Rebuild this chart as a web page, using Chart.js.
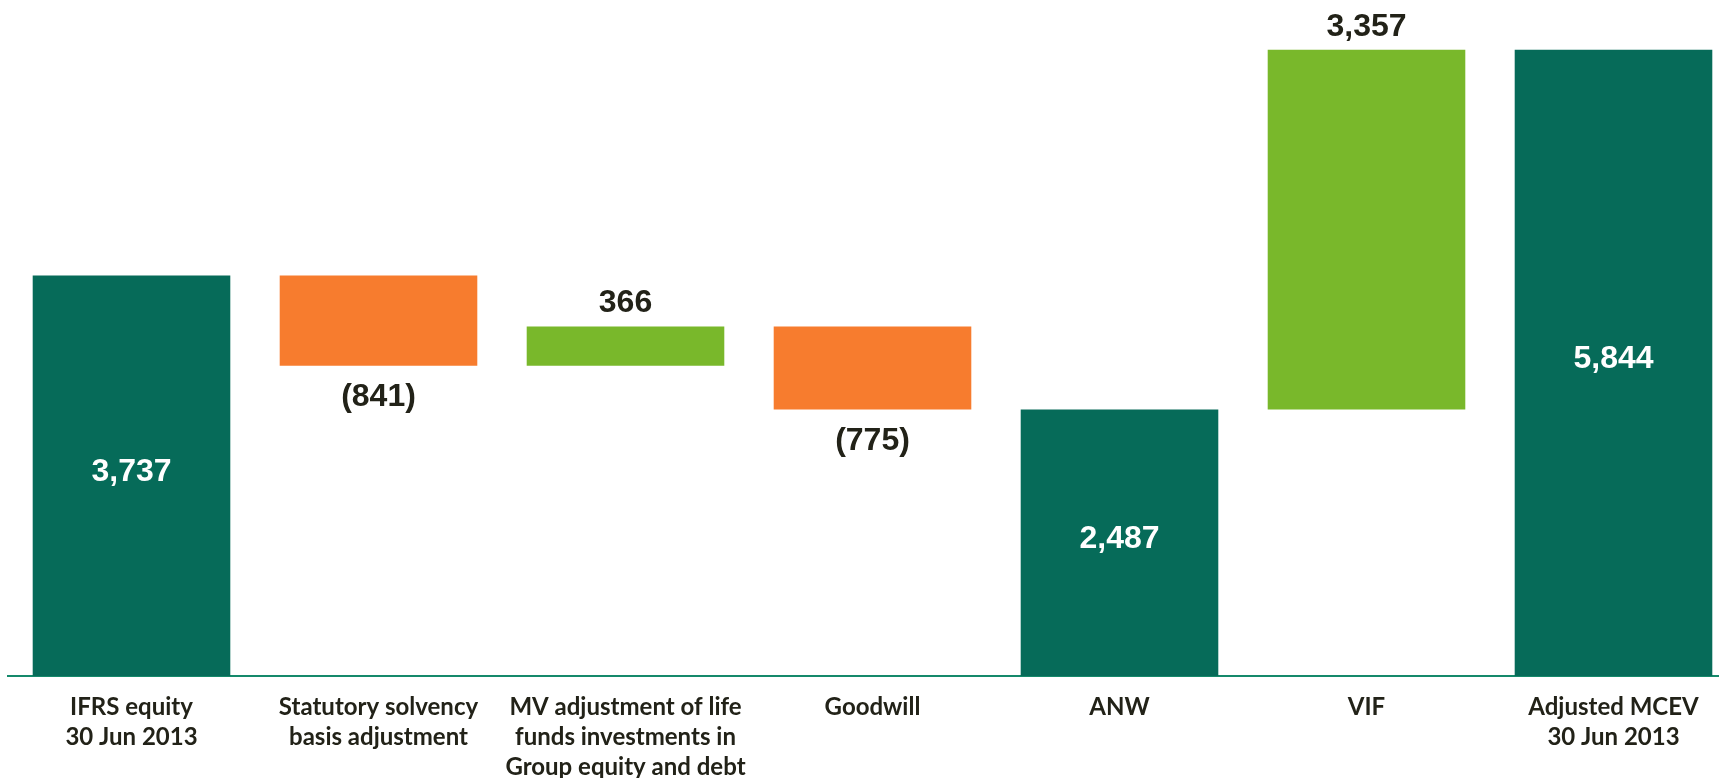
<!DOCTYPE html>
<html>
<head>
<meta charset="utf-8">
<script src="https://cdn.jsdelivr.net/npm/chart.js@4/dist/chart.umd.min.js"></script>
<style>
  html, body { margin: 0; padding: 0; background: #fff; overflow: hidden; }
  #wrap { width: 1745px; height: 778px; }
</style>
</head>
<body>
<div id="wrap"><canvas id="mcev-chart" width="1745" height="778"></canvas></div>
<script>
var categories = [
  ['IFRS equity', '30 Jun 2013'],
  ['Statutory solvency', 'basis adjustment'],
  ['MV adjustment of life', 'funds investments in', 'Group equity and debt'],
  ['Goodwill'],
  ['ANW'],
  ['VIF'],
  ['Adjusted MCEV', '30 Jun 2013']
];
// 'total' bars start from zero, 'step' bars move the running total
var kinds = ['total', 'step', 'step', 'step', 'total', 'step', 'total'];
var values = [3737, -841, 366, -775, 2487, 3357, 5844];
var valueLabels = ['3,737', '(841)', '366', '(775)', '2,487', '3,357', '5,844'];
var yTicks = [0, 6000];

var darkGreen = '#066b59';
var orange = '#f77c2e';
var lightGreen = '#79b82b';

// build floating bars from the running total
var floating = [];
var colors = [];
var running = 0;
values.forEach(function(v, i) {
  if (kinds[i] === 'total') {
    floating.push([0, v]);
    running = v;
    colors.push(darkGreen);
  } else {
    floating.push([running, running + v]);
    running = running + v;
    colors.push(v < 0 ? orange : lightGreen);
  }
});

var valueLabelPlugin = {
  id: 'valueLabels',
  afterDatasetsDraw: function(chart) {
    var ctx = chart.ctx;
    var meta = chart.getDatasetMeta(0);
    ctx.save();
    ctx.font = 'bold 32px "Liberation Sans", Arial, sans-serif';
    ctx.textAlign = 'center';
    ctx.textBaseline = 'middle';
    meta.data.forEach(function(bar, i) {
      var top = Math.min(bar.y, bar.base);
      var bottom = Math.max(bar.y, bar.base);
      var y;
      if (kinds[i] === 'total') {
        ctx.fillStyle = '#ffffff';
        y = (top + bottom) / 2 - 4;
      } else if (values[i] < 0) {
        ctx.fillStyle = '#222218';
        y = bottom + 32;
      } else {
        ctx.fillStyle = '#222218';
        y = top - 23;
      }
      ctx.fillText(valueLabels[i], bar.x, y);
    });
    ctx.restore();
  }
};

var ctx = document.getElementById('mcev-chart').getContext('2d');
var chart = new Chart(ctx, {
  type: 'bar',
  data: {
    labels: categories,
    datasets: [{
      data: floating,
      backgroundColor: colors,
      borderWidth: 0,
      borderSkipped: false,
      barPercentage: 0.8,
      categoryPercentage: 1.0
    }]
  },
  options: {
    responsive: false,
    animation: false,
    devicePixelRatio: 1,
    layout: { padding: { left: 8, right: 8, top: 33, bottom: 0 } },
    plugins: {
      legend: { display: false },
      tooltip: { enabled: false }
    },
    scales: {
      x: {
        grid: { display: false, drawTicks: false },
        border: { display: true, color: '#15896b', width: 2 },
        ticks: {
          color: '#222218',
          padding: 16,
          maxRotation: 0,
          autoSkip: false,
          font: { family: 'Lato, sans-serif', weight: 'bold', size: 24, lineHeight: 1.25 }
        },
        afterFit: function(scale) { scale.height = 102; }
      },
      y: {
        display: false,
        min: yTicks[0],
        max: yTicks[yTicks.length - 1]
      }
    }
  },
  plugins: [valueLabelPlugin]
});
</script>
</body>
</html>
